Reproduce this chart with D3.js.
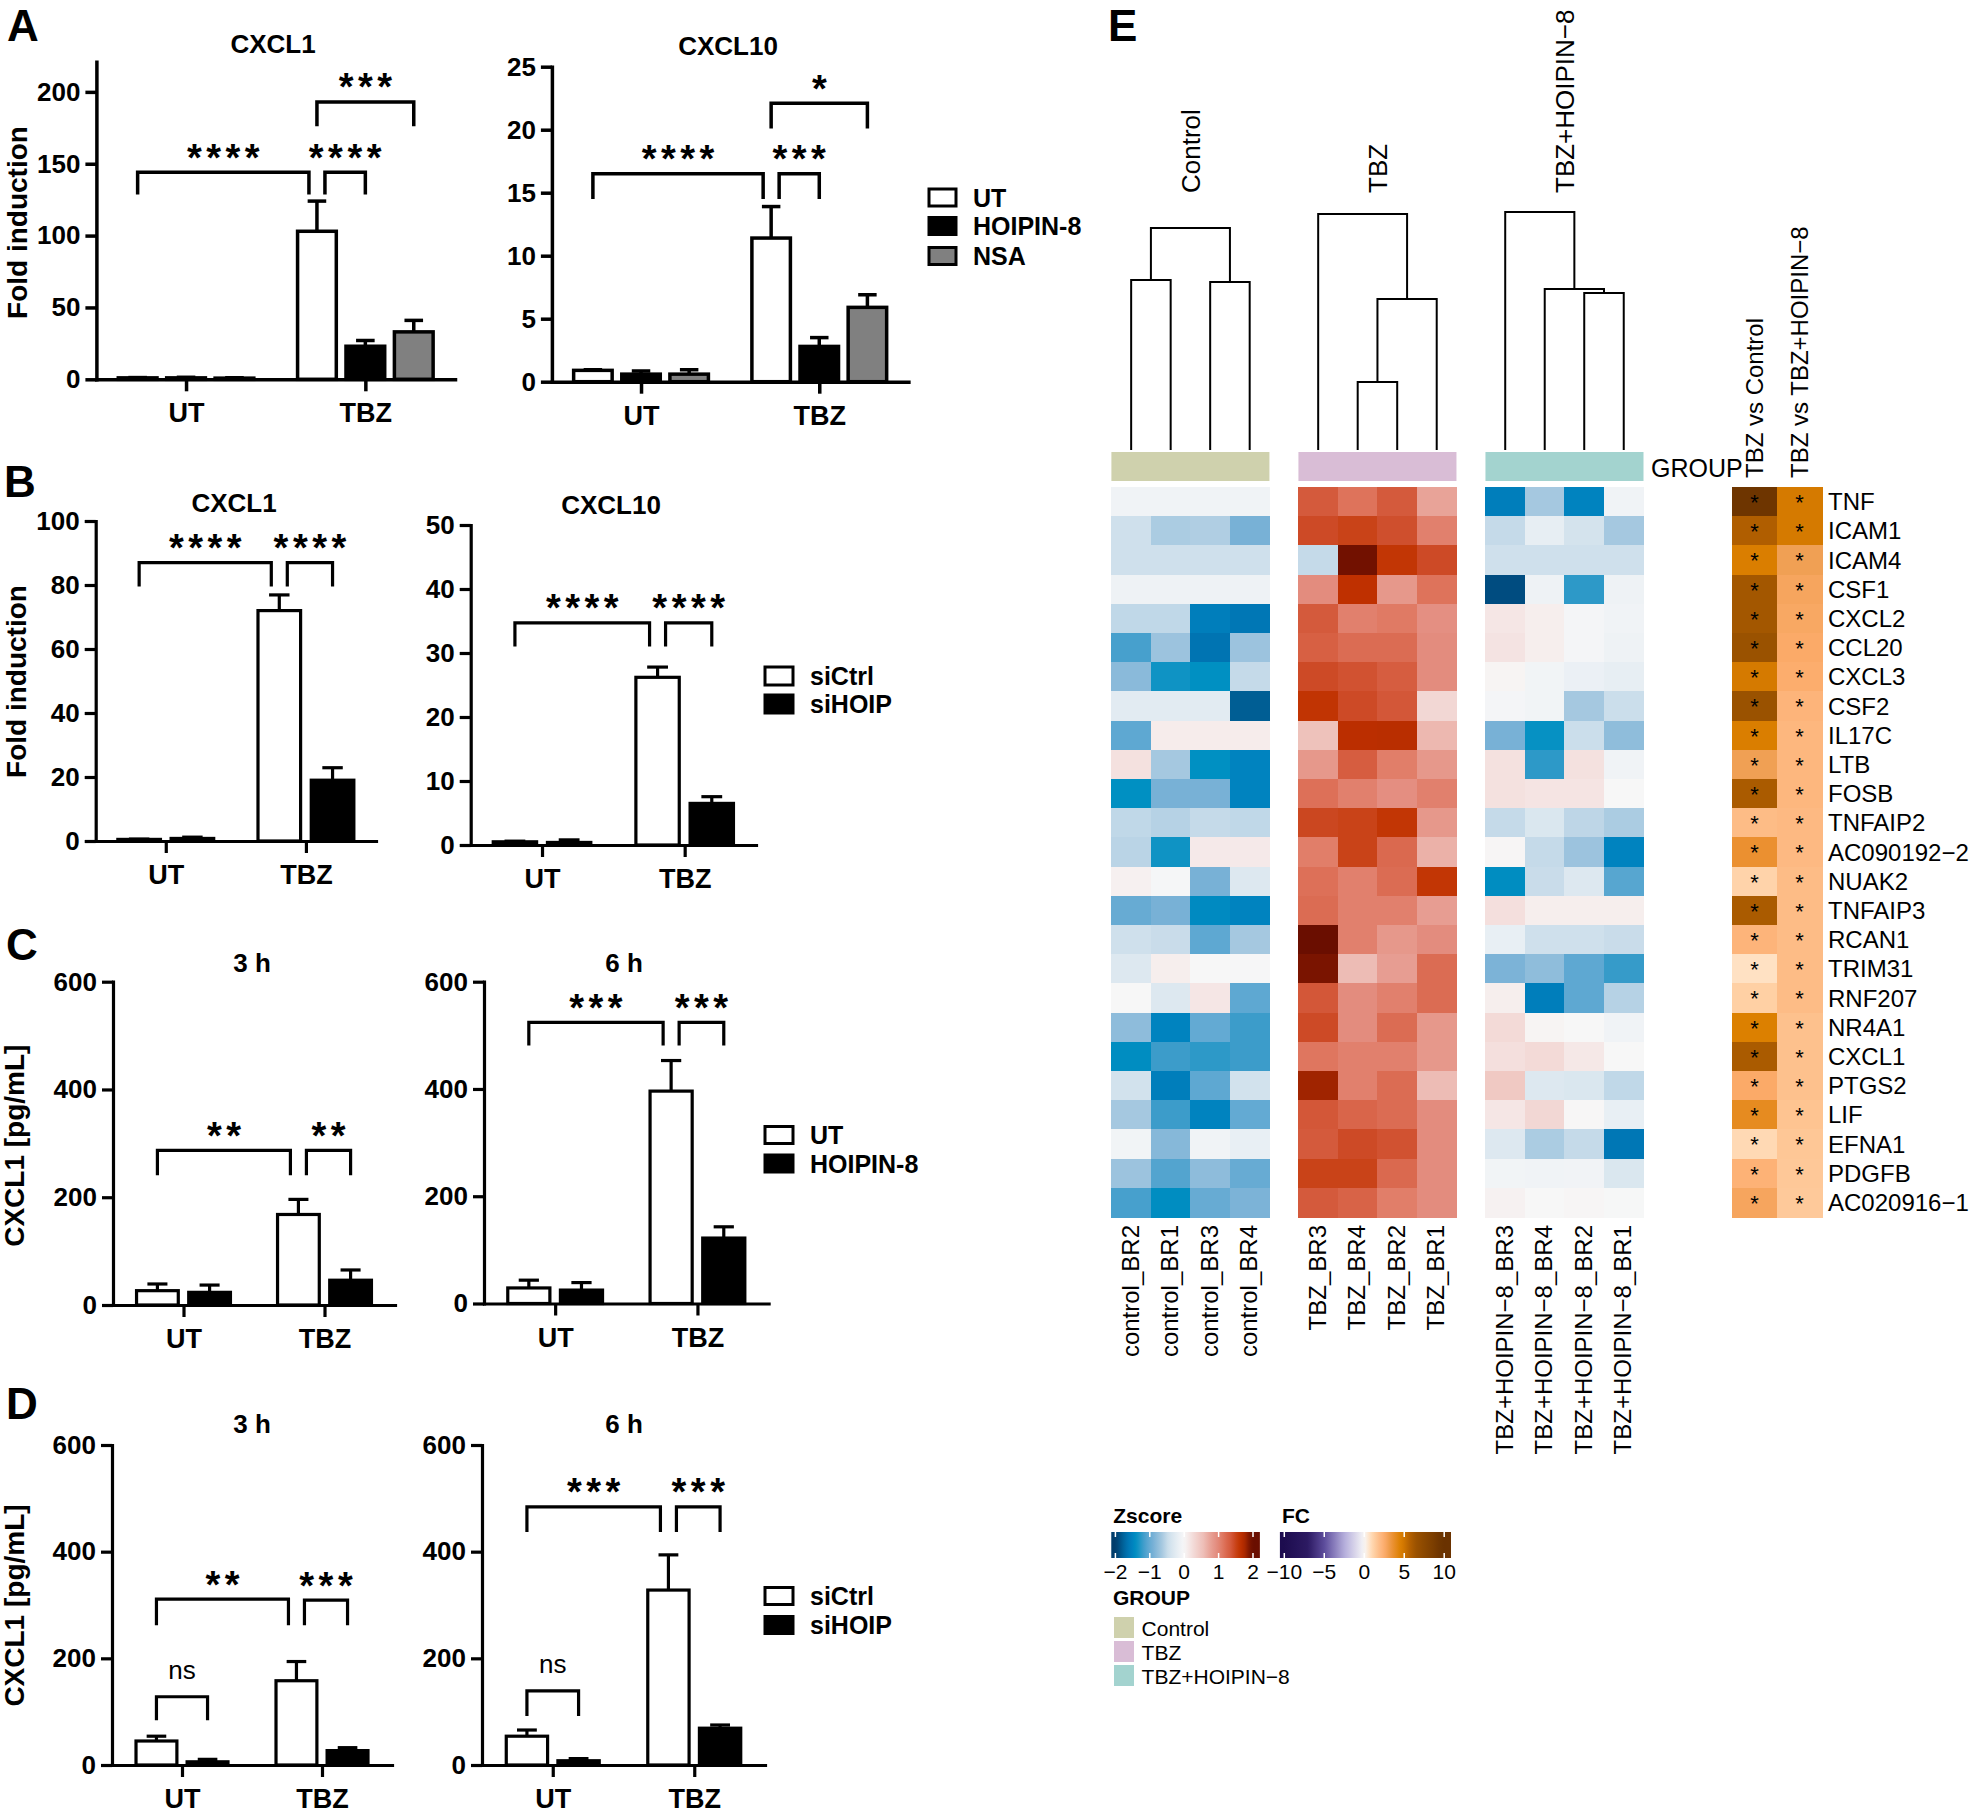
<!DOCTYPE html>
<html><head><meta charset="utf-8">
<script src="https://cdn.jsdelivr.net/npm/d3@7"></script>
<style>body{margin:0;background:#fff} svg{display:block}</style>
</head><body>
<svg id="fig" width="1975" height="1813" viewBox="0 0 1975 1813"></svg>
<script>
// ================= DATA =================
const groups = ["UT", "TBZ"];
const seriesA = ["UT", "HOIPIN-8", "NSA"];
const seriesB = ["siCtrl", "siHOIP"];
const seriesC = ["UT", "HOIPIN-8"];
const seriesD = ["siCtrl", "siHOIP"];

// means [group][series], sem [group][series]
const aCxcl1Mean = [[1.0, 1.0, 0.8], [103, 23, 33]];
const aCxcl1Sem = [[0.2, 0.4, 0.3], [21, 4, 8]];
const aCxcl10Mean = [[0.9, 0.6, 0.6], [11.4, 2.8, 5.9]];
const aCxcl10Sem = [[0.05, 0.25, 0.35], [2.5, 0.7, 1.0]];
const bCxcl1Mean = [[0.5, 0.8], [72, 19]];
const bCxcl1Sem = [[0.1, 0.4], [4.9, 3.9]];
const bCxcl10Mean = [[0.5, 0.4], [26.2, 6.5]];
const bCxcl10Sem = [[0.1, 0.4], [1.6, 1.05]];
const c3hMean = [[26.6, 23.5], [168, 46]];
const c3hSem = [[12.4, 13.5], [28, 19]];
const c6hMean = [[29, 25], [396, 122]];
const c6hSem = [[14.5, 14], [57, 21]];
const d3hMean = [[45, 6], [158, 27]];
const d3hSem = [[9, 4.6], [36, 5.5]];
const d6hMean = [[54, 8], [328, 69]];
const d6hSem = [[11.6, 4], [66, 6]];

const ticksA1 = [0, 50, 100, 150, 200];
const ticksA2 = [0, 5, 10, 15, 20, 25];
const ticksB1 = [0, 20, 40, 60, 80, 100];
const ticksB2 = [0, 10, 20, 30, 40, 50];
const ticksCD = [0, 200, 400, 600];

// brackets: from/to = [group, seriesIndex, side], side "-" left of bar centre, "+" right of it
const bracketsA1 = [
  {from: ["UT", 0, ""], to: ["TBZ", 0, "-"], y: 144, leg: 128.6, label: "****"},
  {from: ["TBZ", 0, "+"], to: ["TBZ", 1, ""], y: 144, leg: 128.6, label: "****"},
  {from: ["TBZ", 0, ""], to: ["TBZ", 2, ""], y: 193, leg: 176, label: "***"}
];
const bracketsA2 = [
  {from: ["UT", 0, ""], to: ["TBZ", 0, "-"], y: 16.5, leg: 14.5, label: "****"},
  {from: ["TBZ", 0, "+"], to: ["TBZ", 1, ""], y: 16.5, leg: 14.5, label: "***"},
  {from: ["TBZ", 0, ""], to: ["TBZ", 2, ""], y: 22.1, leg: 20.1, label: "*"}
];
const bracketsB1 = [
  {from: ["UT", 0, ""], to: ["TBZ", 0, "-"], y: 87, leg: 79.5, label: "****"},
  {from: ["TBZ", 0, "+"], to: ["TBZ", 1, ""], y: 87, leg: 79.5, label: "****"}
];
const bracketsB2 = [
  {from: ["UT", 0, ""], to: ["TBZ", 0, "-"], y: 34.7, leg: 31, label: "****"},
  {from: ["TBZ", 0, "+"], to: ["TBZ", 1, ""], y: 34.7, leg: 31, label: "****"}
];
const bracketsC1 = [
  {from: ["UT", 0, ""], to: ["TBZ", 0, "-"], y: 287, leg: 241, label: "**"},
  {from: ["TBZ", 0, "+"], to: ["TBZ", 1, ""], y: 287, leg: 241, label: "**"}
];
const bracketsC2 = [
  {from: ["UT", 0, ""], to: ["TBZ", 0, "-"], y: 524, leg: 481, label: "***"},
  {from: ["TBZ", 0, "+"], to: ["TBZ", 1, ""], y: 524, leg: 481, label: "***"}
];
const bracketsD1 = [
  {from: ["UT", 0, ""], to: ["TBZ", 0, "-"], y: 311, leg: 262, label: "**"},
  {from: ["TBZ", 0, "+"], to: ["TBZ", 1, ""], y: 309, leg: 262, label: "***"},
  {from: ["UT", 0, ""], to: ["UT", 1, ""], y: 128, leg: 84, label: "ns"}
];
const bracketsD2 = [
  {from: ["UT", 0, ""], to: ["TBZ", 0, "-"], y: 484, leg: 437, label: "***"},
  {from: ["TBZ", 0, "+"], to: ["TBZ", 1, ""], y: 484, leg: 437, label: "***"},
  {from: ["UT", 0, ""], to: ["UT", 1, ""], y: 139, leg: 92, label: "ns"}
];

// ---- heatmap ----
const genes = ["TNF", "ICAM1", "ICAM4", "CSF1", "CXCL2", "CCL20", "CXCL3", "CSF2", "IL17C", "LTB", "FOSB",
  "TNFAIP2", "AC090192\u22122", "NUAK2", "TNFAIP3", "RCAN1", "TRIM31", "RNF207", "NR4A1", "CXCL1", "PTGS2",
  "LIF", "EFNA1", "PDGFB", "AC020916\u22121"];
const sampleGroups = ["Control", "TBZ", "TBZ+HOIPIN\u22128"];
const samplesControl = ["control_BR2", "control_BR1", "control_BR3", "control_BR4"];
const samplesTBZ = ["TBZ_BR3", "TBZ_BR4", "TBZ_BR2", "TBZ_BR1"];
const samplesTBZH = ["TBZ+HOIPIN\u22128_BR3", "TBZ+HOIPIN\u22128_BR4", "TBZ+HOIPIN\u22128_BR2", "TBZ+HOIPIN\u22128_BR1"];

const zControl = [
  [-0.1, -0.1, -0.1, -0.1], [-0.45, -0.62, -0.6, -0.9], [-0.45, -0.45, -0.45, -0.45], [-0.12, -0.12, -0.12, -0.12],
  [-0.52, -0.52, -1.55, -1.62], [-1.15, -0.7, -1.65, -0.7], [-0.8, -1.35, -1.4, -0.5], [-0.25, -0.25, -0.25, -1.8],
  [-1.05, 0.1, 0.1, 0.1], [0.2, -0.65, -1.4, -1.5], [-1.4, -0.9, -0.9, -1.5], [-0.52, -0.57, -0.5, -0.52],
  [-0.55, -1.35, 0.12, 0.12], [0.06, -0.03, -0.9, -0.3], [-1.0, -0.9, -1.45, -1.5], [-0.45, -0.48, -1.05, -0.65],
  [-0.3, 0.08, 0, -0.02], [0, -0.3, 0.15, -1.05], [-0.78, -1.5, -1.02, -1.2], [-1.42, -1.2, -1.25, -1.2],
  [-0.42, -1.55, -1.05, -0.42], [-0.65, -1.2, -1.5, -1.02], [-0.08, -0.82, -0.1, -0.18], [-0.7, -1.1, -0.78, -1.0],
  [-1.15, -1.42, -1.0, -0.88]
];
const zTBZ = [
  [1.35, 1.15, 1.35, 0.75], [1.45, 1.5, 1.42, 1.05], [-0.5, 1.95, 1.6, 1.45], [0.95, 1.65, 0.85, 1.15],
  [1.35, 1.05, 1.1, 0.92], [1.3, 1.2, 1.2, 0.95], [1.45, 1.4, 1.32, 0.95], [1.62, 1.45, 1.37, 0.3],
  [0.52, 1.67, 1.68, 0.6], [0.85, 1.32, 1.07, 0.85], [1.17, 1.05, 0.93, 1.05], [1.47, 1.5, 1.6, 0.85],
  [1.07, 1.5, 1.22, 0.65], [1.17, 1.05, 1.2, 1.6], [1.2, 1.05, 1.05, 0.8], [2.0, 1.05, 0.85, 0.95],
  [1.9, 0.57, 0.8, 1.2], [1.37, 0.95, 1.05, 1.2], [1.45, 0.95, 1.2, 0.85], [1.13, 1.05, 1.05, 0.85],
  [1.8, 1.05, 1.2, 0.57], [1.37, 1.25, 1.2, 0.95], [1.35, 1.45, 1.4, 0.95], [1.5, 1.5, 1.22, 0.95],
  [1.35, 1.27, 1.07, 0.95]
];
const zTBZH = [
  [-1.55, -0.65, -1.5, -0.1], [-0.5, -0.2, -0.4, -0.65], [-0.45, -0.45, -0.45, -0.45], [-1.9, -0.12, -1.25, -0.12],
  [0.15, 0.08, -0.05, -0.1], [0.18, 0.08, -0.05, -0.12], [0.03, -0.08, -0.15, -0.2], [-0.05, -0.08, -0.65, -0.47],
  [-0.9, -1.38, -0.47, -0.77], [0.2, -1.25, 0.2, -0.1], [0.2, 0.17, 0.17, 0], [-0.5, -0.33, -0.53, -0.62],
  [0.02, -0.5, -0.7, -1.5], [-1.42, -0.48, -0.3, -1.08], [0.22, 0.08, 0.08, 0.08], [-0.18, -0.45, -0.45, -0.48],
  [-0.88, -0.77, -1.05, -1.22], [0.08, -1.55, -1.05, -0.57], [0.27, 0.03, 0, -0.1], [0.22, 0.27, 0.13, 0],
  [0.45, -0.3, -0.33, -0.52], [0.15, 0.3, 0.01, -0.18], [-0.3, -0.62, -0.5, -1.62], [-0.08, -0.1, -0.09, -0.33],
  [0.05, 0, 0.02, -0.01]
];
const fcColumns = ["TBZ vs Control", "TBZ vs TBZ+HOIPIN\u22128"];
const fcTbzVsControl = [9.5, 5.8, 4.6, 6.2, 6.2, 6.5, 4.8, 6.5, 4.6, 3.0, 6.0, 1.9, 3.6, 1.1, 6.0, 2.2, 0.7, 1.2, 4.5, 6.0, 2.6, 3.9, 0.95, 2.3, 2.8];
const fcTbzVsTbzH = [4.8, 4.8, 3.0, 2.8, 2.7, 2.6, 2.5, 2.2, 2.1, 2.1, 2.1, 2.0, 2.0, 1.9, 1.9, 1.9, 1.9, 1.9, 1.75, 1.75, 1.75, 1.65, 1.55, 1.5, 1.45];
const fcSignificant = ["*", "*"];

// dendrograms: [height, left, right]
const dendroControl = [22.2, [17.0, "control_BR2", "control_BR1"], [16.8, "control_BR3", "control_BR4"]];
const dendroTBZ = [23.6, "TBZ_BR3", [15.1, [6.8, "TBZ_BR4", "TBZ_BR2"], "TBZ_BR1"]];
const dendroTBZH = [23.8, "TBZ+HOIPIN\u22128_BR3", [16.1, "TBZ+HOIPIN\u22128_BR4", [15.7, "TBZ+HOIPIN\u22128_BR2", "TBZ+HOIPIN\u22128_BR1"]]];

const zTicks = [-2, -1, 0, 1, 2];
const fcTicks = [-10, -5, 0, 5, 10];

// ================= DRAWING =================
const svg = d3.select("#fig");
const FONT = "'Liberation Sans', Arial, Helvetica, sans-serif";
const barFills = ["#ffffff", "#000000", "#808080"];

function txt(parent, t, x, y, size, weight, anchor) {
  return parent.append("text").attr("x", x).attr("y", y)
    .attr("font-family", FONT).attr("font-size", size)
    .attr("font-weight", weight || "normal")
    .attr("text-anchor", anchor || "start").attr("fill", "#000").text(t);
}

function barPanel(p) {
  const g = svg.append("g");
  const sw = p.sw;
  const x = d3.scalePoint().domain(groups).range([p.x0, p.x1]).padding(0.5);
  const G = x.step();
  const n = p.series.length;
  const inner = d3.scaleBand().domain(d3.range(n))
    .range([-p.stepFrac * G * n / 2, p.stepFrac * G * n / 2]).paddingInner(0.2).paddingOuter(0.1);
  const y = d3.scaleLinear().domain([0, p.ymax]).range([p.y0, p.y1]);
  const cx = (gname, si) => x(gname) + inner(si) + inner.bandwidth() / 2;
  const bw = inner.bandwidth();

  const rows = [];
  groups.forEach((gn, gi) => p.series.forEach((s, si) =>
    rows.push({g: gn, si, v: p.mean[gi][si], e: p.sem[gi][si]})));

  // error bars
  rows.forEach(d => {
    const xc = cx(d.g, d.si);
    g.append("line").attr("x1", xc).attr("x2", xc).attr("y1", y(d.v)).attr("y2", y(d.v + d.e))
      .attr("stroke", "#000").attr("stroke-width", sw);
    g.append("line").attr("x1", xc - bw * 0.24).attr("x2", xc + bw * 0.24)
      .attr("y1", y(d.v + d.e)).attr("y2", y(d.v + d.e))
      .attr("stroke", "#000").attr("stroke-width", sw);
  });
  // bars
  g.selectAll("rect.bar").data(rows).join("rect").attr("class", "bar")
    .attr("x", d => cx(d.g, d.si) - bw / 2)
    .attr("y", d => y(d.v))
    .attr("width", bw)
    .attr("height", d => y(0) - y(d.v))
    .attr("fill", d => barFills[d.si])
    .attr("stroke", "#000").attr("stroke-width", sw);

  // axes
  const ya = g.append("g").attr("transform", `translate(${p.x0},0)`)
    .call(d3.axisLeft(y).tickValues(p.ticks).tickSize(11).tickPadding(5).tickSizeOuter(0));
  const xa = g.append("g").attr("transform", `translate(0,${p.y0})`)
    .call(d3.axisBottom(x).tickSize(12).tickPadding(12).tickSizeOuter(0));
  [ya, xa].forEach(a => {
    a.attr("font-family", FONT).attr("font-weight", "bold").attr("color", "#000");
    a.select("path.domain").attr("stroke-width", sw).attr("stroke-linecap", "square");
    a.selectAll(".tick line").attr("stroke-width", sw);
  });
  ya.attr("font-size", 26);
  xa.attr("font-size", 27);

  // brackets
  const gap = 8;
  const ex = e => cx(e[0], e[1]) + (e[2] === "-" ? -gap : e[2] === "+" ? gap : 0);
  p.brackets.forEach(b => {
    const xa1 = ex(b.from), xb1 = ex(b.to);
    g.append("path")
      .attr("d", `M${xa1},${y(b.leg)}V${y(b.y)}H${xb1}V${y(b.leg)}`)
      .attr("fill", "none").attr("stroke", "#000").attr("stroke-width", sw)
      .attr("stroke-linejoin", "miter");
    const mx = (xa1 + xb1) / 2;
    if (b.label === "ns") {
      txt(g, "ns", mx, y(b.y) - 18, 26, "normal", "middle");
    } else {
      txt(g, b.label, mx, y(b.y) - 1.5, 38, "bold", "middle")
        .attr("letter-spacing", 4.5).attr("dx", 2.25);
    }
  });

  // title
  txt(g, p.title, p.titleX, p.titleY, 26, "bold", "middle");

  // legend
  if (p.legend) {
    p.series.forEach((s, si) => {
      const cy = p.legend.y[si];
      g.append("rect").attr("x", p.legend.x).attr("y", cy - p.legend.h / 2)
        .attr("width", p.legend.w).attr("height", p.legend.h)
        .attr("fill", barFills[si]).attr("stroke", "#000").attr("stroke-width", 3);
      txt(g, s, p.legend.x + p.legend.w + 17, cy, 25, "bold", "start").attr("dy", "0.36em");
    });
  }
  // y title
  if (p.ytitle) {
    g.append("text").attr("transform", `translate(${p.ytitle.x},${p.ytitle.y}) rotate(-90)`)
      .attr("font-family", FONT).attr("font-size", 28).attr("font-weight", "bold")
      .attr("text-anchor", "middle").text(p.ytitle.t);
  }
}

barPanel({mean: aCxcl1Mean, sem: aCxcl1Sem, series: seriesA, ticks: ticksA1, ymax: 221, brackets: bracketsA1,
  title: "CXCL1", titleX: 273, titleY: 53, x0: 96.4, x1: 455, y0: 379.3, y1: 61.7, stepFrac: 0.27, sw: 3.5,
  ytitle: {t: "Fold induction", x: 27, y: 222.5}});
barPanel({mean: aCxcl10Mean, sem: aCxcl10Sem, series: seriesA, ticks: ticksA2, ymax: 25, brackets: bracketsA2,
  title: "CXCL10", titleX: 728, titleY: 55, x0: 551.9, x1: 908.4, y0: 381.7, y1: 66.7, stepFrac: 0.27, sw: 3.5,
  legend: {x: 929, w: 27, h: 17, y: [197.5, 226, 256]}});
barPanel({mean: bCxcl1Mean, sem: bCxcl1Sem, series: seriesB, ticks: ticksB1, ymax: 100, brackets: bracketsB1,
  title: "CXCL1", titleX: 234, titleY: 512, x0: 95.7, x1: 376, y0: 841, y1: 521, stepFrac: 0.38, sw: 3.2,
  ytitle: {t: "Fold induction", x: 25.5, y: 681.5}});
barPanel({mean: bCxcl10Mean, sem: bCxcl10Sem, series: seriesB, ticks: ticksB2, ymax: 50, brackets: bracketsB2,
  title: "CXCL10", titleX: 611, titleY: 514, x0: 470.7, x1: 756, y0: 845, y1: 525, stepFrac: 0.38, sw: 3.2,
  legend: {x: 765, w: 28, h: 18, y: [676, 704]}});
barPanel({mean: c3hMean, sem: c3hSem, series: seriesC, ticks: ticksCD, ymax: 600, brackets: bracketsC1,
  title: "3 h", titleX: 252, titleY: 972, x0: 113, x1: 395, y0: 1305, y1: 981.7, stepFrac: 0.37, sw: 3.2,
  ytitle: {t: "CXCL1 [pg/mL]", x: 24, y: 1145.7}});
barPanel({mean: c6hMean, sem: c6hSem, series: seriesC, ticks: ticksCD, ymax: 600, brackets: bracketsC2,
  title: "6 h", titleX: 624, titleY: 972, x0: 484, x1: 768.6, y0: 1303.5, y1: 981.7, stepFrac: 0.37, sw: 3.2,
  legend: {x: 765, w: 28, h: 17, y: [1135, 1163.5]}});
barPanel({mean: d3hMean, sem: d3hSem, series: seriesD, ticks: ticksCD, ymax: 600, brackets: bracketsD1,
  title: "3 h", titleX: 252, titleY: 1433, x0: 112, x1: 392, y0: 1765, y1: 1445, stepFrac: 0.365, sw: 3.2,
  ytitle: {t: "CXCL1 [pg/mL]", x: 24, y: 1605.5}});
barPanel({mean: d6hMean, sem: d6hSem, series: seriesD, ticks: ticksCD, ymax: 600, brackets: bracketsD2,
  title: "6 h", titleX: 624, titleY: 1433, x0: 482, x1: 765, y0: 1765, y1: 1445, stepFrac: 0.365, sw: 3.2,
  legend: {x: 765, w: 28, h: 17, y: [1596, 1625]}});

// panel letters
[["A", 7, 41], ["B", 4, 497], ["C", 6, 960], ["D", 6, 1419], ["E", 1108, 41]]
  .forEach(d => txt(svg, d[0], d[1], d[2], 44, "bold"));

// ================= HEATMAP =================
const zPal = [[-2, "#003d6b"], [-1.9, "#004c80"], [-1.8, "#005e94"], [-1.65, "#0074b2"], [-1.5, "#0083bf"],
  [-1.4, "#0090c2"], [-1.2, "#3c9cca"], [-1.05, "#5ea8d2"], [-0.9, "#78b1d6"], [-0.65, "#a5c8e0"],
  [-0.45, "#cfe0ec"], [-0.1, "#f0f3f6"], [0, "#f7f7f7"], [0.15, "#f5e6e5"], [0.3, "#f2d7d4"], [0.55, "#eebfb8"],
  [0.75, "#e8a398"], [0.95, "#e38c7e"], [1.1, "#e07a64"], [1.25, "#d9654a"], [1.35, "#d45a3c"], [1.45, "#cd4a26"],
  [1.55, "#c43c0a"], [1.65, "#bf3000"], [1.8, "#a02400"], [1.9, "#7a1400"], [2, "#6a0e00"]];
const zColor = d3.scaleLinear().domain(zPal.map(d => d[0])).range(zPal.map(d => d[1])).clamp(true);
const fcPal = [[-10, "#1d0c4f"], [-7, "#2d1b63"], [-5, "#5d4c9c"], [-2.5, "#b4addb"], [0, "#f7f7f7"],
  [0.7, "#ffe1c3"], [1.2, "#ffd0a4"], [1.5, "#fec898"], [1.9, "#fdbc86"], [2.2, "#fdb47a"], [2.6, "#fbaa68"],
  [3.0, "#f0a054"], [3.6, "#eb9030"], [4.5, "#dc8000"], [4.8, "#d57a00"], [5.8, "#b05e00"], [6.5, "#9a5200"],
  [9.5, "#6e3500"], [10, "#6a3200"]];
const fcColor = d3.scaleLinear().domain(fcPal.map(d => d[0])).range(fcPal.map(d => d[1])).clamp(true);
const groupColors = ["#cfd1ad", "#d9bdd6", "#a3d3cf"];

const hm = svg.append("g");
const gx = d3.scaleBand().domain(sampleGroups).range([1111.4, 1643.5]).paddingInner(0.155).paddingOuter(0);
const ry = d3.scaleBand().domain(genes).range([487, 1217]);
const dy = d3.scaleLinear().domain([0, 25]).range([450, 200]);
const sampleSets = [samplesControl, samplesTBZ, samplesTBZH];
const zSets = [zControl, zTBZ, zTBZH];
const dendros = [dendroControl, dendroTBZ, dendroTBZH];

sampleGroups.forEach((gname, gi) => {
  const sx = d3.scaleBand().domain(sampleSets[gi]).range([gx(gname), gx(gname) + gx.bandwidth()]);
  const cells = [];
  genes.forEach((gene, r) => sampleSets[gi].forEach((s, c) => cells.push({gene, s, v: zSets[gi][r][c]})));
  hm.append("g").attr("shape-rendering", "crispEdges").selectAll("rect").data(cells).join("rect")
    .attr("x", d => sx(d.s)).attr("y", d => ry(d.gene))
    .attr("width", sx.bandwidth() + 0.6).attr("height", ry.bandwidth() + 0.6)
    .attr("fill", d => zColor(d.v));
  // group annotation bar
  hm.append("rect").attr("x", gx(gname)).attr("y", 452).attr("width", gx.bandwidth()).attr("height", 29)
    .attr("fill", groupColors[gi]);
  // group header
  hm.append("text").attr("transform", `translate(${gx(gname) + gx.bandwidth() / 2 + 9.3},193) rotate(-90)`)
    .attr("font-family", FONT).attr("font-size", 26).text(gname);
  // sample labels
  sampleSets[gi].forEach(s => {
    hm.append("text").attr("transform", `translate(${sx(s) + sx.bandwidth() / 2 + 7.5},1225) rotate(-90)`)
      .attr("font-family", FONT).attr("font-size", 24).attr("text-anchor", "end").text(s);
  });
  // dendrogram
  const dg = hm.append("g").attr("fill", "none").attr("stroke", "#000").attr("stroke-width", 2);
  function drawNode(node) {
    if (typeof node === "string") return {x: sx(node) + sx.bandwidth() / 2, h: 0};
    const l = drawNode(node[1]), r = drawNode(node[2]);
    dg.append("path").attr("d", `M${l.x},${dy(l.h)}V${dy(node[0])}H${r.x}V${dy(r.h)}`);
    return {x: (l.x + r.x) / 2, h: node[0]};
  }
  drawNode(dendros[gi]);
});
txt(hm, "GROUP", 1651, 477, 25);

// FC columns
const fx = d3.scaleBand().domain(fcColumns).range([1732, 1822]);
const fcSets = [fcTbzVsControl, fcTbzVsTbzH];
fcColumns.forEach((col, ci) => {
  const cells = genes.map((gene, r) => ({gene, v: fcSets[ci][r]}));
  hm.append("g").attr("shape-rendering", "crispEdges").selectAll("rect").data(cells).join("rect")
    .attr("x", fx(col)).attr("y", d => ry(d.gene)).attr("width", fx.bandwidth() + 0.6).attr("height", ry.bandwidth() + 0.6)
    .attr("fill", d => fcColor(d.v));
  cells.forEach(d => txt(hm, fcSignificant[ci], fx(col) + fx.bandwidth() / 2, ry(d.gene) + 23, 22, "normal", "middle"));
  hm.append("text").attr("transform", `translate(${fx(col) + fx.bandwidth() / 2 + 8.6},478) rotate(-90)`)
    .attr("font-family", FONT).attr("font-size", 24).text(col);
});
genes.forEach(gene => txt(hm, gene, 1828, ry(gene) + ry.bandwidth() / 2, 24).attr("dy", "0.36em"));

// ===== legends =====
const lg = svg.append("g");
const defs = svg.append("defs");
function colorBar(id, scale, px, lo, hi, title, ticks) {
  const grad = defs.append("linearGradient").attr("id", id).attr("x1", 0).attr("x2", 1).attr("y1", 0).attr("y2", 0);
  d3.range(0, 1.0001, 0.02).forEach(t => {
    grad.append("stop").attr("offset", t).attr("stop-color", scale(lo + (hi - lo) * t));
  });
  lg.append("rect").attr("x", px(lo)).attr("y", 1532).attr("width", px(hi) - px(lo)).attr("height", 26)
    .attr("fill", `url(#${id})`);
  ticks.forEach(t => {
    lg.append("line").attr("x1", px(t)).attr("x2", px(t)).attr("y1", 1532).attr("y2", 1537).attr("stroke", "#fff").attr("stroke-width", 1.5);
    lg.append("line").attr("x1", px(t)).attr("x2", px(t)).attr("y1", 1553).attr("y2", 1558).attr("stroke", "#fff").attr("stroke-width", 1.5);
    txt(lg, String(t).replace("-", "\u2212"), px(t), 1579, 21, "normal", "middle");
  });
  txt(lg, title, px(lo) + 2, 1523, 21, "bold");
}
const zx = d3.scaleLinear().domain([-2, 2]).range([1115.4, 1253]);
colorBar("zgrad", zColor, zx, -2.12, 2.2, "Zscore", zTicks);
const fxl = d3.scaleLinear().domain([-10, 10]).range([1284.3, 1444.2]);
colorBar("fcgrad", fcColor, fxl, -10.55, 10.85, "FC", fcTicks);

txt(lg, "GROUP", 1113, 1605, 21, "bold");
sampleGroups.forEach((gname, gi) => {
  lg.append("rect").attr("x", 1114).attr("y", 1617 + 24 * gi).attr("width", 20).attr("height", 21).attr("fill", groupColors[gi]);
  txt(lg, gname, 1141.6, 1636 + 24 * gi, 21);
});
</script>
</body></html>
